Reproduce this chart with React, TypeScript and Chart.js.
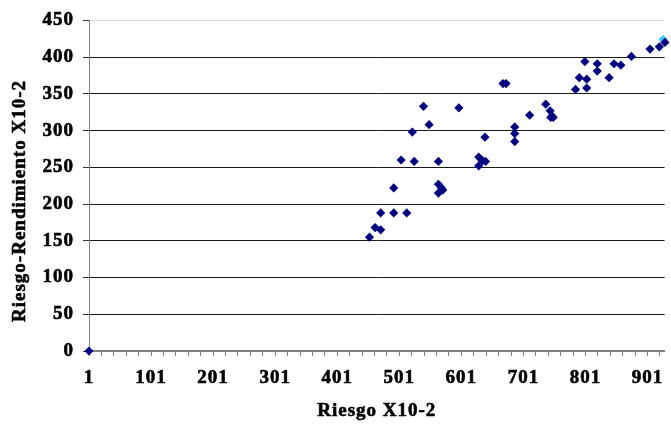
import React, { useEffect, useRef } from 'react';
import { Chart, registerables } from 'chart.js';

Chart.register(...registerables);

// Data
const riesgo = [
  1, 453, 462, 471, 471, 492, 513, 492, 504, 525, 564, 564, 569, 571, 564,
  522, 549, 540, 597, 639, 629, 635, 629, 640, 668, 673, 687, 687, 687, 711,
  737, 744, 747, 749, 745, 785, 791, 803, 803, 800, 820, 820, 839, 847, 858,
  875, 905, 920, 929,
];
const rendimiento = [
  0, 155, 168, 165, 188, 188, 188, 222, 260, 258, 258, 227, 222, 219, 215,
  298, 308, 333, 331, 291, 264, 259, 252, 258, 364, 364, 305, 296, 285, 321,
  336, 327, 320, 318, 318, 356, 372, 370, 358, 394, 391, 381, 372, 391, 389,
  401, 411, 414, 420,
];
const extraRiesgo = [926];
const extraRendimiento = [424];

const xTickLabels = ['1', '101', '201', '301', '401', '501', '601', '701', '801', '901'];
const xMinorTicks = [
  1, 21, 41, 61, 81, 101, 121, 141, 161, 181, 201, 221, 241, 261, 281, 301, 321, 341, 361, 381,
  401, 421, 441, 461, 481, 501, 521, 541, 561, 581, 601, 621, 641, 661, 681, 701, 721, 741, 761,
  781, 801, 821, 841, 861, 881, 901, 921,
];
const yTicks = [0, 50, 100, 150, 200, 250, 300, 350, 400, 450];

const xTitle = 'Riesgo X10-2';
const yTitle = 'Riesgo-Rendimiento X10-2';

const FAMILY = "'Liberation Serif', serif";
const FONT = { family: FAMILY, size: 19, weight: 'bold' as const };

function drawTitle(ctx: CanvasRenderingContext2D, text: string, x: number, y: number, rot: number) {
  ctx.save();
  (ctx as any).letterSpacing = '1px';
  ctx.translate(x, y);
  ctx.rotate(rot);
  ctx.font = `bold 19px ${FAMILY}`;
  ctx.fillStyle = '#000';
  ctx.strokeStyle = '#000';
  ctx.lineWidth = 0.6;
  ctx.textAlign = 'center';
  ctx.textBaseline = 'middle';
  ctx.fillText(text, 0, 0);
  ctx.strokeText(text, 0, 0);
  ctx.restore();
}

const titlePlugin = {
  id: 'titles',
  beforeUpdate(chart: any) {
    (chart.ctx as any).letterSpacing = '1px';
  },
  beforeDraw(chart: any) {
    (chart.ctx as any).letterSpacing = '1px';
  },
  afterDraw(chart: any) {
    const ctx = chart.ctx as CanvasRenderingContext2D;
    const area = chart.chartArea;
    drawTitle(ctx, yTitle, 20, 201, -Math.PI / 2);
    drawTitle(ctx, xTitle, (area.left + area.right) / 2, 411.5, 0);
  },
};

export default function App() {
  const ref = useRef<HTMLCanvasElement | null>(null);

  useEffect(() => {
    document.body.style.margin = '0';
    const canvas = ref.current;
    if (!canvas) return;
    const chart = new Chart(canvas, {
      type: 'scatter',
      data: {
        datasets: [
          {
            data: riesgo.map((x, i) => ({ x, y: rendimiento[i] })),
            pointStyle: 'rectRot',
            pointRadius: 4.6,
            pointBackgroundColor: '#000080',
            pointBorderColor: '#000080',
            pointBorderWidth: 0,
            clip: false,
          },
          {
            data: extraRiesgo.map((x, i) => ({ x, y: extraRendimiento[i] })),
            pointStyle: 'rectRot',
            pointRadius: 4.6,
            pointBackgroundColor: '#33CCFF',
            pointBorderColor: '#33CCFF',
            pointBorderWidth: 0,
            clip: false,
          },
        ],
      },
      options: {
        animation: false,
        responsive: false,
        devicePixelRatio: 1,
        layout: { padding: { top: 15, right: 0, bottom: 0, left: 0 } },
        plugins: {
          legend: { display: false },
          tooltip: { enabled: false },
        },
        scales: {
          x: {
            type: 'linear',
            min: 1,
            max: 928.5,
            afterBuildTicks: (s: any) => {
              s.ticks = xMinorTicks.map((v) => ({ value: v }));
            },
            afterFit: (s: any) => {
              s.height = 74;
            },
            ticks: {
              autoSkip: false,
              maxRotation: 0,
              minRotation: 0,
              padding: 11,
              color: '#000',
              font: FONT,
              textStrokeColor: '#000',
              textStrokeWidth: 0.6,
              callback: (v: any) => (xTickLabels.includes(String(v)) ? String(v) : ''),
            },
            grid: {
              drawOnChartArea: false,
              drawTicks: true,
              tickLength: 5,
              color: '#808080',
              tickColor: '#808080',
            },
            border: { display: true, color: '#808080', width: 2 },
            title: { display: false },
          },
          y: {
            type: 'linear',
            min: 0,
            max: 450,
            afterBuildTicks: (s: any) => {
              s.ticks = yTicks.map((v) => ({ value: v }));
            },
            afterFit: (s: any) => {
              s.width = 89;
            },
            ticks: {
              padding: 9,
              color: '#000',
              font: FONT,
              textStrokeColor: '#000',
              textStrokeWidth: 0.6,
            },
            grid: {
              color: (c: any) =>
                c.tick && c.tick.value === 450
                  ? '#d8d8d8'
                  : c.tick && c.tick.value === 0
                  ? 'rgba(0,0,0,0)'
                  : '#1a1a1a',
              tickColor: '#333',
              tickLength: 6,
              drawTicks: true,
            },
            border: { display: true, color: '#808080', width: 1 },
          },
        },
      },
      plugins: [titlePlugin],
    });
    return () => chart.destroy();
  }, []);

  return (
    <div style={{ width: 671, height: 425 }}>
      <canvas ref={ref} width={671} height={425} style={{ display: 'block' }} />
    </div>
  );
}
